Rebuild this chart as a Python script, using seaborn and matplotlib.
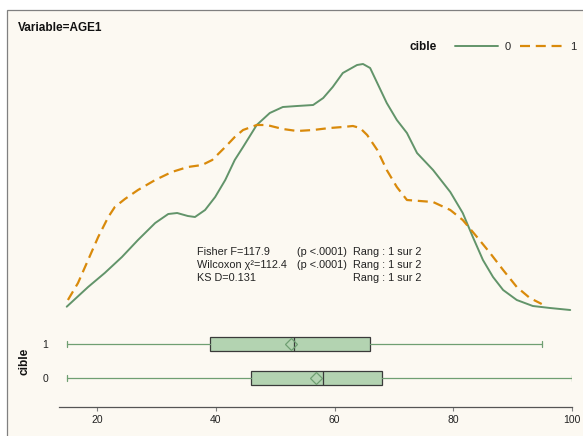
import numpy as np
import pandas as pd
import matplotlib
matplotlib.use("Agg")
import matplotlib.pyplot as plt
from matplotlib.patches import Rectangle
from matplotlib.lines import Line2D
import seaborn as sns

# ---------------- data ----------------
age_0 = [14.9, 18.5, 21.3, 24.2, 26.9, 29.8, 32.0, 33.5, 35.3, 36.5, 38.2, 39.9, 41.6, 43.2,
         44.6, 46.9, 49.1, 51.3, 53.7, 56.4, 58.1, 59.7, 61.4, 63.8, 64.8, 66.0, 67.2, 68.8,
         70.5, 72.2, 73.9, 76.6, 79.5, 81.6, 83.3, 85.0, 86.7, 88.4, 90.7, 93.4, 96.3, 99.7]
dens_0 = [0.00063, 0.0026, 0.0040, 0.0056, 0.0073, 0.0090, 0.0099, 0.0100, 0.0097, 0.0096,
          0.0103, 0.0116, 0.0133, 0.0153, 0.0166, 0.0188, 0.0200, 0.0206, 0.0207, 0.0208,
          0.0215, 0.0226, 0.0240, 0.0248, 0.0249, 0.0245, 0.0230, 0.0210, 0.0193, 0.0180,
          0.0160, 0.0143, 0.0121, 0.0100, 0.0076, 0.0053, 0.0036, 0.0023, 0.0013, 0.0007,
          0.0005, 0.0003]

age_1 = [15.1, 16.8, 18.5, 20.2, 21.9, 23.0, 24.7, 26.9, 29.8, 32.6, 35.3, 37.7, 39.4, 41.6,
         43.2, 44.6, 46.9, 48.6, 51.3, 53.7, 56.4, 59.2, 61.4, 63.1, 64.3, 65.5, 67.2, 68.8,
         70.5, 72.2, 76.6, 79.5, 81.6, 84.0, 86.2, 88.4, 90.7, 92.9, 94.9]
dens_1 = [0.0013, 0.0030, 0.0053, 0.0076, 0.0096, 0.0106, 0.0114, 0.0123, 0.0133, 0.0141,
          0.0146, 0.0148, 0.0153, 0.0166, 0.0176, 0.0183, 0.0188, 0.0188, 0.0184, 0.0182,
          0.0183, 0.0185, 0.0186, 0.0187, 0.0185, 0.0178, 0.0163, 0.0143, 0.0126, 0.0113,
          0.0111, 0.0103, 0.0093, 0.0076, 0.0060, 0.0043, 0.0026, 0.0015, 0.0009]

groups = ["0", "1"]
box_whislo = [15, 15]
box_q1 = [46, 39]
box_med = [58, 53.2]
box_mean = [56.9, 52.7]
box_q3 = [68, 66]
box_whishi = [100, 95]

tick_vals = [20, 40, 60, 80, 100]
stats_lines = [("Fisher F=117.9", "(p <.0001)", "Rang : 1 sur 2"),
               ("Wilcoxon \u03c7\u00b2=112.4", "(p <.0001)", "Rang : 1 sur 2"),
               ("KS D=0.131", "", "Rang : 1 sur 2")]

# ---------------- style ----------------
W, H = 583, 436
cream = "#FCF9F2"
green = "#62946A"
orange = "#D98A0B"
box_fill = "#B3D3B1"
whisk_col = "#6F9F72"
FONT = ["Liberation Sans", "DejaVu Sans"]

sns.set_style("white")
plt.rcParams["font.family"] = FONT

fig = plt.figure(figsize=(W / 100, H / 100), dpi=100, facecolor="white")
fig.patches.append(Rectangle((7 / W, -0.1), 1.2, 426 / H + 0.1, transform=fig.transFigure,
                             facecolor=cream, edgecolor="#808080", lw=0.9, zorder=-10))

def fx(px):
    return px / W

def fy(py):
    return 1 - py / H

xlim = (13.6, 100)

# density panel
ax_d = fig.add_axes([fx(59), fy(313), fx(572) - fx(59), fy(50) - fy(313)])
ax_d.set_facecolor("none")
df0 = pd.DataFrame({"age": age_0, "density": dens_0})
df1 = pd.DataFrame({"age": age_1, "density": dens_1})
sns.lineplot(data=df0, x="age", y="density", ax=ax_d, color=green, lw=1.4, sort=False)
sns.lineplot(data=df1, x="age", y="density", ax=ax_d, color=orange, lw=1.6, sort=False,
             dashes=False)
ax_d.lines[-1].set_dashes((4.5, 2.6))
for ln in ax_d.lines:
    ln.set_solid_joinstyle("round")
    ln.set_dash_joinstyle("round")
    ln.set_antialiased(True)
ax_d.set_xlim(*xlim)
ax_d.set_ylim(0, 0.0263)
ax_d.axis("off")

# box panel
ax_b = fig.add_axes([fx(59), fy(407), fx(572) - fx(59), fy(325) - fy(407)])
ax_b.set_facecolor("none")
stats = []
for i, g in enumerate(groups):
    stats.append(dict(label=g, whislo=box_whislo[i], q1=box_q1[i], med=box_med[i],
                      q3=box_q3[i], whishi=box_whishi[i], mean=box_mean[i], fliers=[]))
ax_b.bxp(stats, positions=[0, 1], orientation="horizontal", widths=0.44, capwidths=0.2,
         patch_artist=True, showmeans=True, showfliers=False,
         boxprops=dict(facecolor=box_fill, edgecolor="#3a3a3a", lw=0.9),
         medianprops=dict(color="#3a3a3a", lw=0.9),
         whiskerprops=dict(color=whisk_col, lw=0.9),
         capprops=dict(color=whisk_col, lw=0.9),
         meanprops=dict(marker="D", markerfacecolor="none", markeredgecolor=whisk_col,
                        markersize=6, markeredgewidth=0.9))
ax_b.set_xlim(*xlim)
ax_b.set_ylim(-0.853, 1.559)
ax_b.set_xticks(tick_vals)
ax_b.set_xticklabels([str(t) for t in tick_vals])
ax_b.set_yticks([0, 1])
ax_b.set_yticklabels(groups)
for s in ["top", "right", "left"]:
    ax_b.spines[s].set_visible(False)
ax_b.spines["bottom"].set_color("#555555")
ax_b.spines["bottom"].set_linewidth(0.9)
ax_b.tick_params(axis="x", length=3, width=0.8, color="#808080", pad=3,
                 labelsize=7.5, labelcolor="#222222", bottom=True)
ax_b.tick_params(axis="y", length=0, pad=8, labelsize=7.5, labelcolor="#222222")
ax_b.set_xlabel("")
ax_b.set_ylabel("")

# texts
fig.text(fx(18), fy(28), "Variable=AGE1", fontsize=8.5, fontweight="bold", va="center",
         ha="left", color="#111111")
fig.text(fx(25), fy(361), "cible", fontsize=8.5, fontweight="bold", rotation=90,
         va="center", ha="center", color="#111111")
fig.text(fx(410), fy(47), "cible", fontsize=8.5, fontweight="bold", va="center",
         ha="left", color="#111111")

handles = [Line2D([], [], color=green, lw=1.4),
           Line2D([], [], color=orange, lw=1.6, dashes=(4.5, 2.6))]
fig.legend(handles, groups, loc="center left", bbox_to_anchor=(fx(455), fy(47)),
           ncol=2, frameon=False, fontsize=8, handlelength=3.9, handletextpad=0.6,
           columnspacing=0.8, borderpad=0, borderaxespad=0)

col_x = [197, 297, 353]
row_y = [252, 265, 278]
for r, row in enumerate(stats_lines):
    for c, txt in enumerate(row):
        if txt:
            fig.text(fx(col_x[c]), fy(row_y[r]), txt, fontsize=7.8, va="center",
                     ha="left", color="#222222")

fig.savefig("out.png", dpi=100, facecolor="white")
